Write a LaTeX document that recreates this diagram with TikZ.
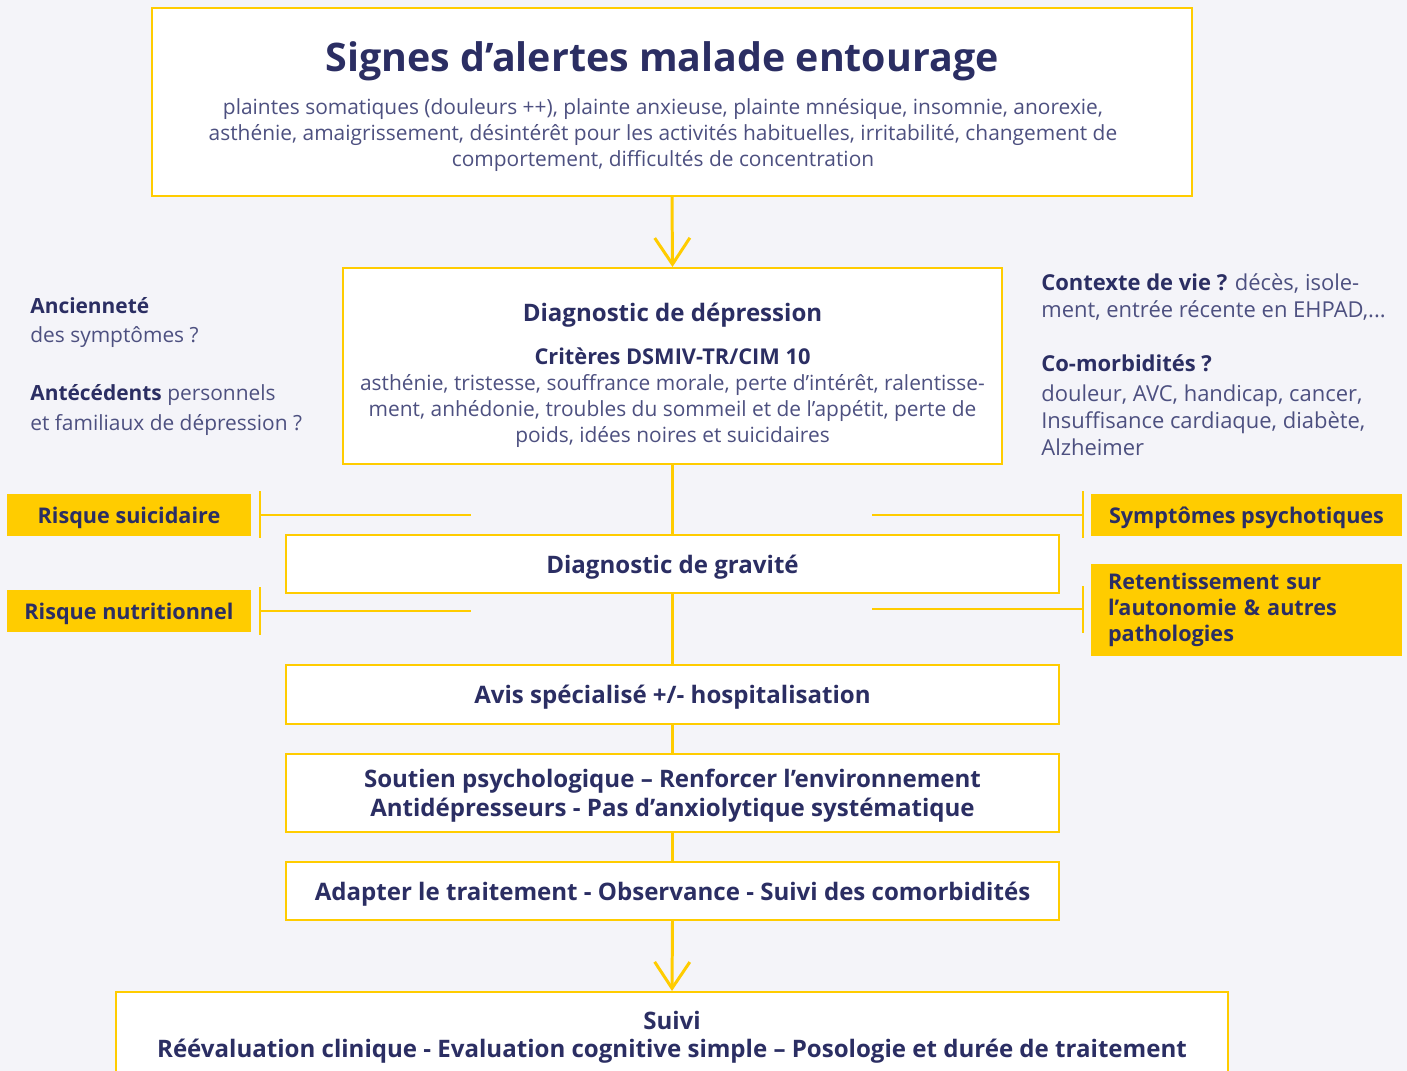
\documentclass[tikz,border=0pt]{standalone}
\usepackage{fontspec}
\setmainfont{Open Sans}
\usetikzlibrary{arrows.meta}
\definecolor{jaune}{HTML}{FFCC00}
\definecolor{marine}{HTML}{2B2E63}
\definecolor{gristxt}{HTML}{4D5080}
\definecolor{fond}{HTML}{F4F4F9}

\tikzset{
  cadre/.style={draw=jaune, line width=1.2pt, fill=white, align=center, text=marine, inner sep=0pt, text depth=0pt},
  etiq/.style={fill=jaune, text=marine, inner sep=0pt, text depth=0pt, font=\fontsize{12.3}{14.7}\selectfont\bfseries},
  titre/.style={font=\fontsize{13.7}{16.4}\selectfont\bfseries},
  corps/.style={text=gristxt, align=center, inner sep=0pt, font=\fontsize{11.9}{14.7}\selectfont},
  cote/.style={text=gristxt, align=left, anchor=north west, inner sep=0pt},
  lien/.style={draw=jaune, line width=1.7pt},
  fleche/.style={lien, -{Straight Barb[length=15pt,width=20pt,line width=1.7pt]}},
  barre/.style={draw=jaune, line width=1.1pt},
}

\begin{document}
\begin{tikzpicture}[x=0.02cm, y=-0.02cm]
\useasboundingbox (0,0) rectangle (1407,1071);
\fill[fond] (0,0) rectangle (1407,1071);
\clip (0,0) rectangle (1407,1071);

% colonne centrale
\node[cadre, minimum width=20.8cm, minimum height=3.76cm] (alerte) at (672,102) {};
\node[text=marine, inner sep=0pt, font=\fontsize{22.4}{26}\selectfont\bfseries] (alertetitre) at (662,61)
  {Signes d’alertes malade entourage};
\node[corps] (alertetxt) at (663,135)
  {plaintes somatiques (douleurs ++), plainte anxieuse, plainte mnésique, insomnie, anorexie,\\
   asthénie, amaigrissement, désintérêt pour les activités habituelles, irritabilité, changement de\\
   comportement, difficultés de concentration};

\node[cadre, minimum width=13.18cm, minimum height=3.92cm] (diag) at (672.5,366) {};
\node[text=marine, inner sep=0pt, titre] (diagtitre) at (672.5,315) {Diagnostic de dépression};
\node[text=marine, inner sep=0pt, font=\fontsize{12.4}{14.7}\selectfont\bfseries] (diagcrit) at (672.5,356)
  {Critères DSMIV-TR/CIM 10};
\node[corps] (diagtxt) at (672.5,411)
  {asthénie, tristesse, souffrance morale, perte d’intérêt, ralentisse-\\
   ment, anhédonie, troubles du sommeil et de l’appétit, perte de\\
   poids, idées noires et suicidaires};

\node[cadre, titre, minimum width=15.46cm, minimum height=1.16cm] (grav) at (672.5,564) {Diagnostic de gravité};
\node[cadre, titre, minimum width=15.46cm, minimum height=1.18cm] (avis) at (672.5,694.5) {Avis spécialisé +/- hospitalisation};
\node[cadre, titre, minimum width=15.46cm, minimum height=1.56cm] (soutien) at (672.5,793)
  {Soutien psychologique – Renforcer l’environnement\\Antidépresseurs - Pas d’anxiolytique systématique};
\node[cadre, titre, minimum width=15.46cm, minimum height=1.16cm] (adapt) at (672.5,891)
  {Adapter le traitement - Observance - Suivi des comorbidités};
\node[cadre, anchor=north, minimum width=22.24cm, minimum height=3cm] (suivi) at (672,991) {};
\node[text=marine, align=center, inner sep=0pt, font=\fontsize{13.7}{15.9}\selectfont\bfseries] (suivitxt) at (672,1037)
  {Suivi\\Réévaluation clinique - Evaluation cognitive simple – Posologie et durée de traitement};

\draw[fleche] (alerte.south) -- (diag.north);
\draw[lien] (diag.south) -- (grav.north);
\draw[lien] (grav.south) -- (avis.north);
\draw[lien] (avis.south) -- (soutien.north);
\draw[lien] (soutien.south) -- (adapt.north);
\draw[fleche] (adapt.south) -- (suivi.north);

% facteurs de gravite
\node[etiq, minimum width=4.88cm, minimum height=0.84cm] (suicid) at (129,515) {Risque suicidaire};
\node[etiq, minimum width=4.88cm, minimum height=0.84cm] (nutri) at (129,611) {Risque nutritionnel};
\node[etiq, minimum width=6.22cm, minimum height=0.84cm] (psycho) at (1246.5,515) {Symptômes psychotiques};
\node[etiq, text depth={}, minimum width=6.22cm, minimum height=1.84cm, align=left, text width=5.54cm] (retent) at (1246.5,610)
  {Retentissement sur\\l’autonomie \& autres\\pathologies};

\coordinate (bsuicid) at (260,515);
\coordinate (bnutri) at (260,611);
\coordinate (bpsycho) at (1083,515);
\coordinate (bretent) at (1083,609);
\coordinate (fsuicid) at (471,515);
\coordinate (fnutri) at (471,611);
\coordinate (fpsycho) at (872,515);
\coordinate (fretent) at (872,609);
\draw[barre] ([yshift=0.48cm]bsuicid) -- ([yshift=-0.46cm]bsuicid);
\draw[barre] ([yshift=0.48cm]bnutri) -- ([yshift=-0.48cm]bnutri);
\draw[barre] ([yshift=0.48cm]bpsycho) -- ([yshift=-0.46cm]bpsycho);
\draw[barre] ([yshift=0.46cm]bretent) -- ([yshift=-0.48cm]bretent);
\draw[barre] (bsuicid) -- (fsuicid);
\draw[barre] (bnutri) -- (fnutri);
\draw[barre] (fpsycho) -- (bpsycho);
\draw[barre] (fretent) -- (bretent);

% questions laterales
\node[cote, font=\fontsize{11.9}{16.6}\selectfont] (ancien) at (30,297)
  {{\color{marine}\bfseries Ancienneté}\\des symptômes ?\\[16.6pt]
   {\color{marine}\bfseries Antécédents} personnels\\et familiaux de dépression ?};
\node[cote, font=\fontsize{12.5}{15.3}\selectfont] (contexte) at (1041,273)
  {{\color{marine}\bfseries Contexte de vie ?} décès, isole-\\ment, entrée récente en EHPAD,...\\[15.8pt]
   {\color{marine}\bfseries Co-morbidités ?}\\[1.6pt]douleur, AVC, handicap, cancer,\\Insuffisance cardiaque, diabète,\\Alzheimer};
\end{tikzpicture}
\end{document}
